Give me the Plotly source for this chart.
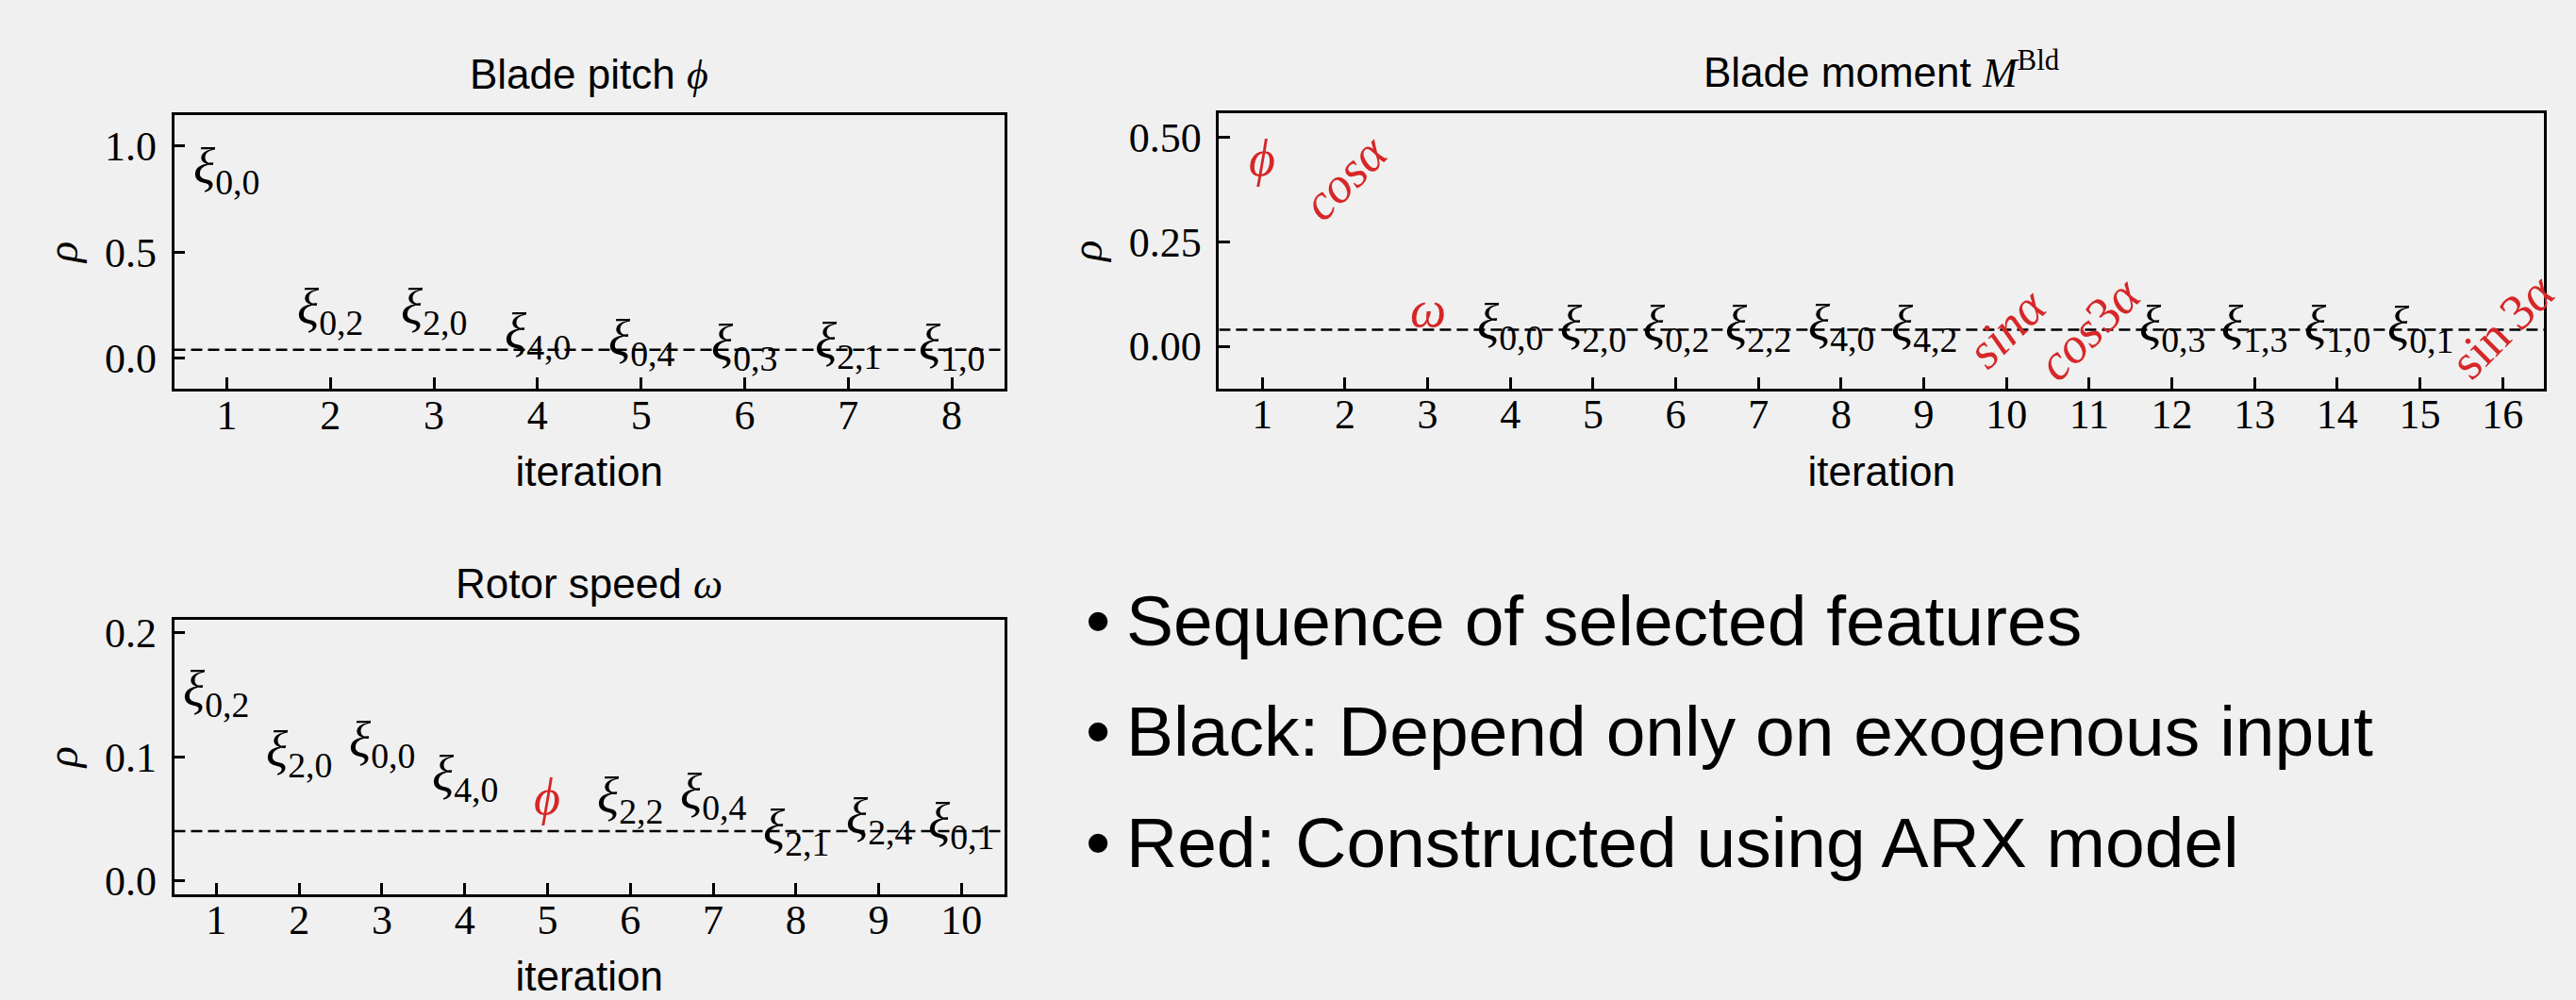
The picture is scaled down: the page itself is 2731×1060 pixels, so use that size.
import plotly.graph_objects as go

# ---------------- data ----------------
THRESHOLD = 0.04

pitch_iteration = [1, 2, 3, 4, 5, 6, 7, 8]
pitch_feature = ["xi_0,0", "xi_0,2", "xi_2,0", "xi_4,0", "xi_0,4", "xi_0,3", "xi_2,1", "xi_1,0"]
pitch_rho = [0.885, 0.222, 0.223, 0.109, 0.078, 0.053, 0.063, 0.053]

moment_iteration = [1, 2, 3, 4, 5, 6, 7, 8, 9, 10, 11, 12, 13, 14, 15, 16]
moment_feature = ["phi", "cos_a", "omega", "xi_0,0", "xi_2,0", "xi_0,2", "xi_2,2", "xi_4,0",
                  "xi_4,2", "sin_a", "cos_3a", "xi_0,3", "xi_1,3", "xi_1,0", "xi_0,1", "sin_3a"]
moment_rho = [0.450, 0.405, 0.088, 0.048, 0.044, 0.044, 0.045, 0.047,
              0.044, 0.044, 0.044, 0.044, 0.044, 0.044, 0.043, 0.048]

rotor_iteration = [1, 2, 3, 4, 5, 6, 7, 8, 9, 10]
rotor_feature = ["xi_0,2", "xi_2,0", "xi_0,0", "xi_4,0", "phi", "xi_2,2", "xi_0,4", "xi_2,1", "xi_2,4", "xi_0,1"]
rotor_rho = [0.1517, 0.1025, 0.1107, 0.0833, 0.0672, 0.0652, 0.0684, 0.0398, 0.0485, 0.0448]

pitch_yticks = [0.0, 0.5, 1.0]
moment_yticks = [0.0, 0.25, 0.50]
rotor_yticks = [0.0, 0.1, 0.2]

titles = ["Blade pitch ", "Blade moment ", "Rotor speed "]
bullets = ["Sequence of selected features",
           "Black: Depend only on exogenous input",
           "Red: Constructed using ARX model"]

# ---------------- style ----------------
W, H = 2731, 1060
BG = "#f0f0f0"
RED = "#d62728"
SERIF = "Liberation Serif, DejaVu Serif, serif"
SANS = "Liberation Sans, Arial, sans-serif"

SPECIAL = {
    "phi": "<i>ϕ</i>",
    "omega": "<i>ω</i>",
    "cos_a": "<i>cosα</i>",
    "sin_a": "<i>sinα</i>",
    "cos_3a": "<i>cos</i>3<i>α</i>",
    "sin_3a": "sin\u20093<i>α</i>",
}


def feature_html(f):
    if f.startswith("xi_"):
        return "<i>ξ</i><sub>" + f[3:] + "</sub>"
    return SPECIAL[f]


def feature_color(f):
    return "black" if f.startswith("xi_") else RED


def feature_angle(f):
    return -45 if (f.startswith("cos") or f.startswith("sin")) else 0


def px_x(p):
    return p / W


def px_y(p):
    return 1 - p / H


panels = [
    dict(xa="x", ya="y", xd=[184.5, 1065], yd=[115, 411], xr=[0.49, 8.51], yr=[-0.144, 1.147],
         it=pitch_iteration, feat=pitch_feature, rho=pitch_rho, yt=pitch_yticks, fmt=".1f",
         title=titles[0] + "<span style='font-family:Liberation Serif'><i>ϕ</i></span>", ty=71),
    dict(xa="x2", ya="y2", xd=[1292.4, 2697], yd=[113, 410.5], xr=[0.477, 16.5], yr=[-0.101, 0.559],
         it=moment_iteration, feat=moment_feature, rho=moment_rho, yt=moment_yticks, fmt=".2f",
         title=titles[1] + "<span style='font-family:Liberation Serif'><i>M</i><sup>Bld</sup></span>", ty=67),
    dict(xa="x3", ya="y3", xd=[184.5, 1065], yd=[660, 956.7], xr=[0.489, 10.52], yr=[-0.0107, 0.2107],
         it=rotor_iteration, feat=rotor_feature, rho=rotor_rho, yt=rotor_yticks, fmt=".1f",
         title=titles[2] + "<span style='font-family:Liberation Serif'><i>ω</i></span>", ty=622),
]

fig = go.Figure()
annotations = []
layout_axes = {}

for i, p in enumerate(panels):
    n = "" if i == 0 else str(i + 1)
    axis_common = dict(
        showline=True, linecolor="black", linewidth=2.5, mirror=True,
        ticks="inside", ticklen=12, tickwidth=2.5, tickcolor="black",
        showgrid=False, zeroline=False,
        tickfont=dict(family=SERIF, size=44, color="black"),
    )
    layout_axes["xaxis" + n] = dict(
        axis_common, domain=[px_x(p["xd"][0]), px_x(p["xd"][1])], anchor=p["ya"],
        range=p["xr"], tickmode="array", tickvals=p["it"], ticklabelstandoff=-13,
        title=dict(text="iteration", font=dict(family=SANS, size=44, color="black"), standoff=21),
    )
    layout_axes["yaxis" + n] = dict(
        axis_common, domain=[px_y(p["yd"][1]), px_y(p["yd"][0])], anchor=p["xa"],
        range=p["yr"], tickmode="array", tickvals=p["yt"], tickformat=p["fmt"], ticklabelstandoff=7,
        title=dict(text="<i>ρ</i>", font=dict(family=SERIF, size=46, color="black"), standoff=14),
    )
    # threshold line
    fig.add_trace(go.Scatter(
        x=p["xr"], y=[THRESHOLD, THRESHOLD], xaxis=p["xa"], yaxis=p["ya"], mode="lines",
        line=dict(color="black", width=2.5, dash="12px,6px"), hoverinfo="skip", showlegend=False,
    ))
    # feature labels
    for it, f, r in zip(p["it"], p["feat"], p["rho"]):
        annotations.append(dict(
            x=it, y=r, xref=p["xa"], yref=p["ya"], text=feature_html(f), showarrow=False,
            font=dict(family=SERIF, size=54, color=feature_color(f)),
            textangle=feature_angle(f), xanchor="center", yanchor="middle",
        ))
    # panel title
    annotations.append(dict(
        x=px_x((p["xd"][0] + p["xd"][1]) / 2), y=px_y(p["ty"]), xref="paper", yref="paper",
        text=p["title"], showarrow=False, font=dict(family=SANS, size=44, color="black"),
        xanchor="center", yanchor="middle",
    ))

# bullet list
for k, txt in enumerate(bullets):
    yc = 661 + 120 * k
    annotations.append(dict(x=px_x(1164), y=px_y(yc), xref="paper", yref="paper", text="•",
                            showarrow=False, font=dict(family=SANS, size=75, color="black"),
                            xanchor="center", yanchor="middle"))
    annotations.append(dict(x=px_x(1192), y=px_y(yc), xref="paper", yref="paper", text=txt,
                            showarrow=False, font=dict(family=SANS, size=75, color="black"),
                            xanchor="left", yanchor="middle"))

fig.update_layout(
    width=W, height=H, margin=dict(l=0, r=0, t=0, b=0),
    paper_bgcolor=BG, plot_bgcolor=BG, showlegend=False,
    annotations=annotations, **layout_axes,
)

fig.write_html(
    "out.html",
    config={"displayModeBar": False},
    post_script="document.body.style.margin='0px';document.body.style.background='#f0f0f0';",
)
